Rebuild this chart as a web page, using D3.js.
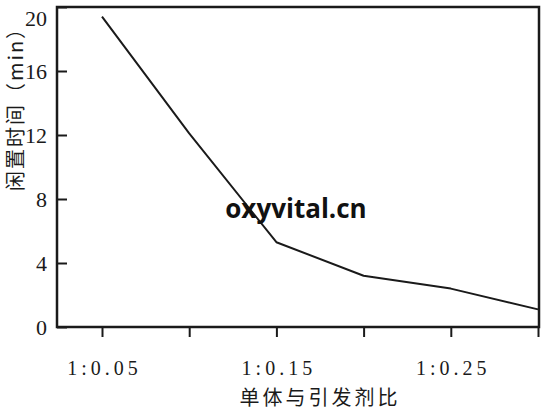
<!DOCTYPE html>
<html><head><meta charset="utf-8">
<script src="https://cdn.jsdelivr.net/npm/d3@7"></script>
<style>body{margin:0;background:#fff;}svg{display:block;}</style>
</head><body>
<script>
const ratios = [0.05, 0.10, 0.15, 0.20, 0.25, 0.30];
const idleMinutes = [19.4, 12.1, 5.3, 3.2, 2.4, 1.1];
const xTickLabels = ["1:0.05", "", "1:0.15", "", "1:0.25", ""];
const yTicks = [0, 4, 8, 12, 16, 20];
const xTitle = "单体与引发剂比";
const yTitle = "闲置时间（min）";

(function () {
const W = 548, H = 412;
const pLeft = 57, pRight = 539, pTop = 7, pBottom = 327;
const svg = d3.select("body").append("svg").attr("width", W).attr("height", H);

const x = d3.scaleLinear().domain([0.05, 0.30]).range([102, 538]);
const y = d3.scaleLinear().domain([0, 20]).range([pBottom, pTop]);

const ink = "#1a1a1a";
const serif = "'Liberation Serif','DejaVu Serif',serif";

// frame
svg.append("rect").attr("x", pLeft).attr("y", pTop).attr("width", pRight - pLeft).attr("height", pBottom - pTop)
  .attr("fill", "none").attr("stroke", ink).attr("stroke-width", 2.5);

// y axis (ticks inward)
const yAxis = d3.axisLeft(y).tickValues(yTicks).tickSize(-10).tickPadding(10).tickFormat(d3.format("d"));
const gy = svg.append("g").attr("transform", `translate(${pLeft},0)`).call(yAxis);
gy.select(".domain").remove();
gy.selectAll(".tick line").attr("stroke", ink).attr("stroke-width", 2);
gy.selectAll(".tick text").attr("font-family", serif).attr("font-size", 22).attr("fill", ink)
  .attr("dy", d => d === 20 ? "0.85em" : "0.36em");

// x axis (ticks outward)
const xAxis = d3.axisBottom(x).tickValues(ratios).tickSize(10).tickPadding(24)
  .tickFormat((d, i) => xTickLabels[i]);
const gx = svg.append("g").attr("transform", `translate(0,${pBottom})`).call(xAxis);
gx.select(".domain").remove();
gx.selectAll(".tick line").attr("stroke", ink).attr("stroke-width", 2);
gx.selectAll(".tick text").attr("font-family", serif).attr("font-size", 20).attr("fill", ink)
  .attr("letter-spacing", "4px").attr("dx", "2px");

// line
const line = d3.line().x((d, i) => x(ratios[i])).y(d => y(d));
svg.append("path").datum(idleMinutes).attr("d", line).attr("fill", "none")
  .attr("stroke", ink).attr("stroke-width", 2).attr("stroke-linejoin", "round");

// titles
svg.append("text").attr("x", 320).attr("y", 405).attr("text-anchor", "middle")
  .attr("font-family", "'Noto Sans CJK SC',sans-serif").attr("font-size", 20)
  .attr("letter-spacing", "3px").attr("fill", ink).text(xTitle);
svg.append("text").attr("transform", "translate(23,104) rotate(-90)").attr("text-anchor", "middle")
  .attr("font-family", "'Noto Sans CJK SC',sans-serif").attr("font-size", 20)
  .attr("letter-spacing", "2px").attr("fill", ink).text(yTitle);

// watermark
svg.append("text").attr("x", 296).attr("y", 218).attr("text-anchor", "middle")
  .attr("font-family", "'Open Sans',sans-serif").attr("font-weight", "bold").attr("font-size", 26)
  .attr("fill", "#111").text("oxyvital.cn");
})();
</script>
</body></html>
